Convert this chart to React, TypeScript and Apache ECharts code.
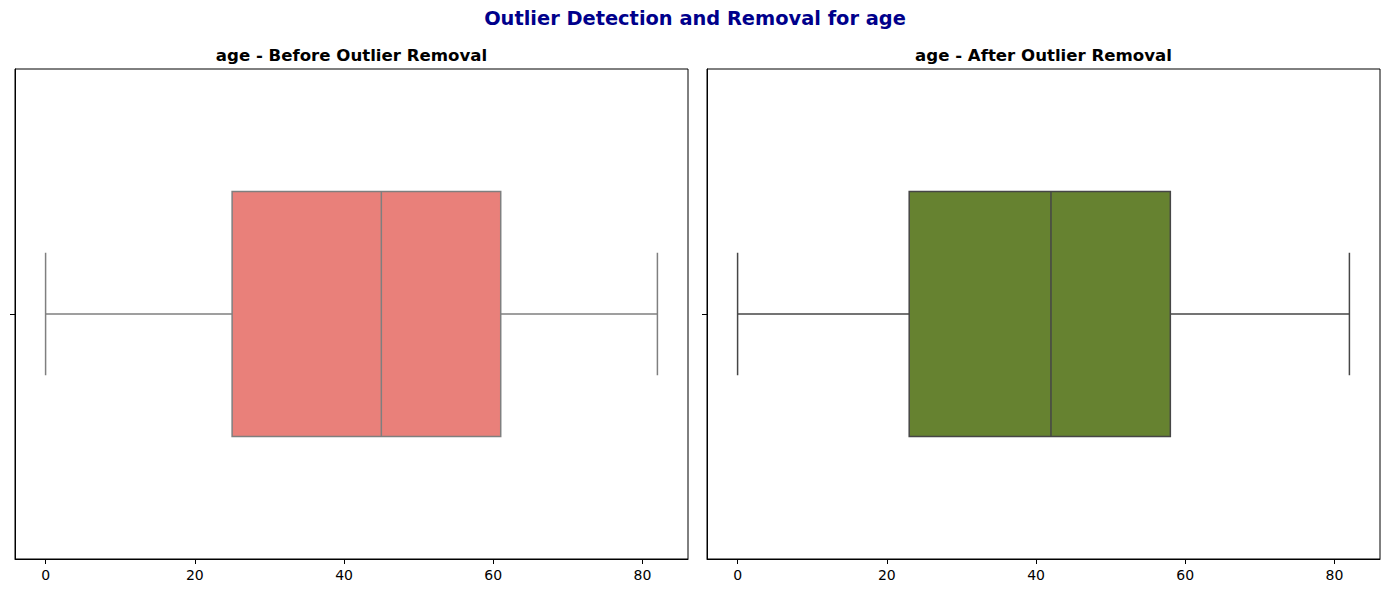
import React, { useEffect, useRef } from "react";
import * as echarts from "echarts";

const categories = ["age"];
// [min whisker, Q1, median, Q3, max whisker]
const beforeStats = [0, 25, 45, 61, 82];
const afterStats = [0, 23, 42, 58, 82];
const xTicks = [0, 20, 40, 60, 80];

const FONT = "DejaVu Sans, sans-serif";

function makeRender(fill: string, edge: string) {
  return (params: any, api: any) => {
    const cat = api.value(0);
    const vals = [1, 2, 3, 4, 5].map((i) => api.value(i));
    const pts = vals.map((v) => api.coord([v, cat]));
    const yc = pts[0][1];
    const band = api.size([0, 1])[1];
    const boxHalf = band * 0.25;
    const capHalf = band * 0.125;
    const [pMin, pQ1, pMed, pQ3, pMax] = pts.map((p: number[]) => p[0]);
    const lineStyle = { stroke: edge, lineWidth: 1.5, fill: null };
    return {
      type: "group",
      children: [
        { type: "line", shape: { x1: pMin, y1: yc, x2: pQ1, y2: yc }, style: lineStyle },
        { type: "line", shape: { x1: pQ3, y1: yc, x2: pMax, y2: yc }, style: lineStyle },
        { type: "line", shape: { x1: pMin, y1: yc - capHalf, x2: pMin, y2: yc + capHalf }, style: lineStyle },
        { type: "line", shape: { x1: pMax, y1: yc - capHalf, x2: pMax, y2: yc + capHalf }, style: lineStyle },
        {
          type: "rect",
          shape: { x: pQ1, y: yc - boxHalf, width: pQ3 - pQ1, height: boxHalf * 2 },
          style: { fill, stroke: edge, lineWidth: 1.5 },
        },
        { type: "line", shape: { x1: pMed, y1: yc - boxHalf, x2: pMed, y2: yc + boxHalf }, style: lineStyle },
      ],
    };
  };
}

export default function App() {
  const ref = useRef<HTMLDivElement>(null);
  useEffect(() => {
    if (!ref.current) return;
    const chart = echarts.init(ref.current, null, { renderer: "svg" });
    const grids = [
      { left: 15, top: 69, width: 673, height: 490 },
      { left: 707, top: 69, width: 673, height: 490 },
    ];
    const xAxisCommon = (gi: number) => ({
      type: "value",
      gridIndex: gi,
      min: -4.1,
      max: 86.1,
      splitLine: { show: false },
      axisLine: { show: true, onZero: false, lineStyle: { color: "#000", width: 1 } },
      axisTick: { show: true, length: 5, lineStyle: { color: "#000" }, customValues: xTicks },
      axisLabel: { color: "#000", fontSize: 14, fontFamily: FONT, margin: 9, customValues: xTicks },
    });
    const yAxisCommon = (gi: number) => ({
      type: "category",
      gridIndex: gi,
      data: categories,
      axisLine: { show: true, onZero: false, lineStyle: { color: "#000", width: 1 } },
      axisTick: { show: true, length: 5, alignWithLabel: true, lineStyle: { color: "#000" } },
      axisLabel: { show: true, formatter: () => "" },
      splitLine: { show: false },
    });
    chart.setOption({
      animation: false,
      backgroundColor: "#fff",
      grid: grids.map((g) => ({ ...g, show: true, borderColor: "#000", borderWidth: 1, backgroundColor: "transparent" })),
      xAxis: [xAxisCommon(0), xAxisCommon(1)],
      yAxis: [yAxisCommon(0), yAxisCommon(1)],
      series: [
        {
          type: "custom",
          xAxisIndex: 0,
          yAxisIndex: 0,
          renderItem: makeRender("#E9807A", "#7F7F7F"),
          encode: { x: [1, 2, 3, 4, 5], y: 0 },
          data: [[0, ...beforeStats]],
        },
        {
          type: "custom",
          xAxisIndex: 1,
          yAxisIndex: 1,
          renderItem: makeRender("#668230", "#464646"),
          encode: { x: [1, 2, 3, 4, 5], y: 0 },
          data: [[0, ...afterStats]],
        },
      ],
      graphic: [
        {
          type: "text",
          x: 695,
          y: 18,
          style: {
            text: "Outlier Detection and Removal for age",
            fill: "#00008B",
            font: `bold 19.4px ${FONT}`,
            textAlign: "center",
            textVerticalAlign: "middle",
          },
        },
        {
          type: "text",
          x: 351.5,
          y: 55,
          style: {
            text: "age - Before Outlier Removal",
            fill: "#000",
            font: `bold 16.6px ${FONT}`,
            textAlign: "center",
            textVerticalAlign: "middle",
          },
        },
        {
          type: "text",
          x: 1043.5,
          y: 55,
          style: {
            text: "age - After Outlier Removal",
            fill: "#000",
            font: `bold 16.6px ${FONT}`,
            textAlign: "center",
            textVerticalAlign: "middle",
          },
        },
      ],
    });
    return () => chart.dispose();
  }, []);
  return (
    <div
      ref={ref}
      style={{ position: "absolute", left: 0, top: 0, width: 1389, height: 593, background: "#fff" }}
    />
  );
}
